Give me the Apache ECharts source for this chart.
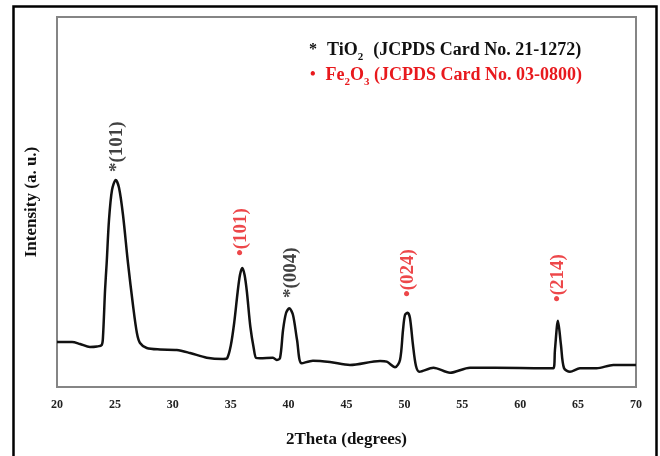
<!DOCTYPE html>
<html><head><meta charset="utf-8">
<script src="https://cdn.jsdelivr.net/npm/echarts@6/dist/echarts.min.js"></script>
<style>html,body{margin:0;padding:0;background:#fff}#c{width:660px;height:456px}</style>
</head><body><div id="c"></div>
<script>
// XRD pattern: 2Theta (degrees) and intensity (a. u.)
const twoTheta = [20.0, 21.3, 21.99, 22.85, 23.45, 23.86, 23.97, 24.15, 24.29, 24.49, 24.75, 25.07, 25.36, 25.7, 26.13, 26.56, 26.9, 27.17, 27.75, 28.9, 30.34, 31.49, 32.93, 34.34, 34.7, 35.0, 35.3, 35.6, 35.8, 36.0, 36.2, 36.4, 36.7, 37.0, 37.2, 37.53, 38.65, 38.97, 39.26, 39.52, 39.78, 40.06, 40.38, 40.73, 41.13, 42.1, 43.57, 45.3, 47.9, 48.47, 49.19, 49.62, 49.88, 50.05, 50.28, 50.48, 50.74, 51.0, 51.29, 52.5, 53.94, 55.67, 59.98, 62.86, 63.0, 63.26, 63.52, 63.78, 64.3, 65.16, 66.6, 68.04, 70.0];
const intensity = [45, 45, 43, 40, 40.5, 42, 50, 97, 124, 167, 197, 207, 199, 172, 124, 82, 54, 44, 39, 37.5, 37, 34, 29.3, 28, 29, 41, 64, 95, 112, 119, 112, 95, 60, 38, 29, 28.7, 29.3, 27, 29, 57, 74, 78.7, 72, 47, 23.7, 26.3, 25, 22, 26, 25.3, 19.7, 27, 57, 72, 74.3, 69, 42, 21, 15.3, 19.3, 14.3, 19.3, 19, 18.7, 37, 66.3, 42, 19, 15.3, 18.7, 18.7, 22, 22];

// Peak annotations (Miller indices)
const peakLabelX = [25.15, 35.92, 40.25, 50.35, 63.3];
const peakLabelY = [215, 131, 89, 90, 85];
const peakLabelText = ['*(101)', '\u2022(101)', '*(004)', '\u2022(024)', '\u2022(214)'];
const peakLabelColor = ['#111111', '#e8191d', '#111111', '#e8191d', '#e8191d'];

// Axis settings
const xMin = 20, xMax = 70, xStep = 5;
const yMin = 0, yMax = 370;

const serif = "'Liberation Serif', 'Times New Roman', serif";
const chart = echarts.init(document.getElementById('c'), null, {renderer: 'canvas'});
chart.setOption({
  animation: false,
  backgroundColor: '#ffffff',
  graphic: [{
    type: 'rect', left: 11, top: 4, silent: true,
    shape: {x: 0, y: 0, width: 643, height: 470},
    style: {fill: 'none', stroke: '#000', lineWidth: 2.5}
  }],
  title: [{
    left: 304, top: 35,
    text: '{a|*}  {b|TiO}{s|2}  {b|(JCPDS Card No. 21-1272)}',
    textStyle: {
      rich: {
        a: {fontFamily: serif, fontWeight: 'bold', fontSize: 16, color: '#111', lineHeight: 20},
        b: {fontFamily: serif, fontWeight: 'bold', fontSize: 18, color: '#111', lineHeight: 20},
        s: {fontFamily: serif, fontWeight: 'bold', fontSize: 11, color: '#111', verticalAlign: 'bottom', lineHeight: 20, padding: [0,0,-3,0]}
      }
    }
  }, {
    left: 305, top: 60,
    text: '{a|\u2022}  {b|Fe}{s|2}{b|O}{s|3}{b| (JCPDS Card No. 03-0800)}',
    textStyle: {
      rich: {
        a: {fontFamily: serif, fontWeight: 'bold', fontSize: 16, color: '#e8191d', lineHeight: 20},
        b: {fontFamily: serif, fontWeight: 'bold', fontSize: 18, color: '#e8191d', lineHeight: 20},
        s: {fontFamily: serif, fontWeight: 'bold', fontSize: 11, color: '#e8191d', verticalAlign: 'bottom', lineHeight: 20, padding: [0,0,-3,0]}
      }
    }
  }],
  grid: {
    left: 57, right: 24, top: 17, bottom: 69,
    show: true, borderColor: '#858585', borderWidth: 2, backgroundColor: 'transparent'
  },
  xAxis: {
    type: 'value', min: xMin, max: xMax, interval: xStep,
    name: '2Theta (degrees)', nameLocation: 'middle', nameGap: 44,
    nameTextStyle: {fontFamily: serif, fontWeight: 'bold', fontSize: 17, color: '#111'},
    axisLine: {show: false}, axisTick: {show: false}, splitLine: {show: false},
    axisLabel: {fontFamily: serif, fontWeight: 'bold', fontSize: 12, color: '#222', margin: 12}
  },
  yAxis: {
    type: 'value', min: yMin, max: yMax,
    name: 'Intensity (a. u.)', nameLocation: 'middle', nameGap: 17,
    nameTextStyle: {fontFamily: serif, fontWeight: 'bold', fontSize: 17, color: '#111'},
    axisLine: {show: false}, axisTick: {show: false}, splitLine: {show: false},
    axisLabel: {show: false}
  },
  series: [{
    type: 'line',
    data: twoTheta.map((x, i) => [x, intensity[i]]),
    showSymbol: false, smooth: 0.3,
    lineStyle: {color: '#111', width: 2.5}
  }, {
    type: 'scatter',
    symbolSize: 0,
    silent: true,
    data: peakLabelX.map((x, i) => ({
      value: [x, peakLabelY[i]],
      label: {
        show: true, position: 'inside', rotate: 90, align: 'left', verticalAlign: 'middle',
        formatter: peakLabelText[i], color: peakLabelColor[i],
        fontFamily: serif, fontWeight: 'bold', fontSize: 19
      }
    }))
  }]
});
</script></body></html>
